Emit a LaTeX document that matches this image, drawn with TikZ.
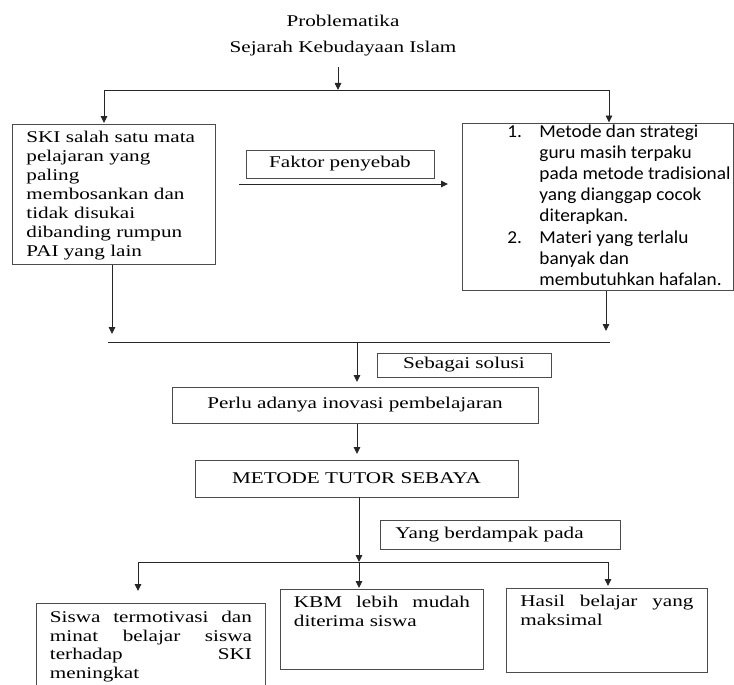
\documentclass[tikz,border=0pt]{standalone}
\usepackage{fontspec}
\setmainfont{Liberation Serif}[FakeStretch=1.29]
\newfontfamily\calib{Carlito}[FakeStretch=1.06]
\usetikzlibrary{arrows.meta}
\newcommand{\tbox}[4]{\parbox[c][#1][t]{#2}{\vspace*{#3}\raggedright #4}}
\newcommand{\jline}[2]{\makebox[#1][s]{#2}}
\begin{document}
\begin{tikzpicture}[x=1pt,y=-1pt,
  ln/.style={draw=black!85, line width=0.9pt},
  arr/.style={ln, -{Triangle[length=7pt,width=6.5pt]}},
  box/.style={draw=black!70, line width=0.9pt, inner sep=0pt},
  txt/.style={font=\fontsize{16.4pt}{18.9pt}\selectfont},
  btxt/.style={font=\fontsize{16.4pt}{18.5pt}\selectfont},
  ltxt/.style={font=\calib\fontsize{18.2pt}{21.2pt}\selectfont}
]
\useasboundingbox (0,0) rectangle (734,685);
\clip (0,0) rectangle (734,685);

% titles
\node[txt] (t1) at (343,20.5) {Problematika};
\node[txt] (t2) at (343,48.5) {Sejarah Kebudayaan Islam};

% row 1 boxes
\node[box, txt, anchor=north west, inner xsep=14pt] (ski) at (12,124)
  {\tbox{140pt}{175pt}{7pt}{SKI salah satu mata\\ pelajaran yang\\ paling\\ membosankan dan\\ tidak disukai\\ dibanding rumpun\\ PAI yang lain}};
\node[box, ltxt, anchor=north west] (list) at (462,123)
  {\tbox{167pt}{271pt}{1pt}{\hspace*{45pt}\makebox[32pt][l]{1.}Metode dan strategi\\
   \hspace*{77pt}guru masih terpaku\\
   \hspace*{77pt}pada metode tradisional\\
   \hspace*{77pt}yang dianggap cocok\\
   \hspace*{77pt}diterapkan.\\
   \hspace*{45pt}\makebox[32pt][l]{2.}Materi yang terlalu\\
   \hspace*{77pt}banyak dan\\
   \hspace*{77pt}membutuhkan hafalan.}};
\node[box, txt, minimum width=188pt, minimum height=28pt] (faktor) at (340,164) {Faktor penyebab};

% middle
\node[box, txt, minimum width=174pt, minimum height=24pt] (solusi) at (464,365) {Sebagai solusi};
\node[box, txt, minimum width=366pt, minimum height=36pt] (perlu) at (355,405) {Perlu adanya inovasi pembelajaran};
\node[box, txt, minimum width=323pt, minimum height=37pt] (metode) at (356.5,478.5) {METODE TUTOR SEBAYA};
\node[box, txt, anchor=west, inner xsep=15pt, minimum height=29pt] (dampak) at (380,534.5)
  {\parbox{210pt}{Yang berdampak pada}};

% bottom boxes
\node[box, btxt, anchor=north west, inner xsep=13.5pt] (siswa) at (36,603)
  {\tbox{100pt}{202pt}{8pt}{\jline{202pt}{Siswa termotivasi dan}\\ \jline{202pt}{minat belajar siswa}\\ \jline{202pt}{terhadap SKI}\\ meningkat}};
\node[box, btxt, anchor=north west, inner xsep=13.5pt] (kbm) at (280,589)
  {\tbox{80pt}{176pt}{7pt}{\jline{176pt}{KBM lebih mudah}\\ diterima siswa}};
\node[box, btxt, anchor=north west, inner xsep=14pt] (hasil) at (506,588)
  {\tbox{84pt}{173pt}{7pt}{\jline{173pt}{Hasil belajar yang}\\ maksimal}};

% junction coordinates
\coordinate (a0) at (338,67);
\coordinate (tl) at (104,90);
\coordinate (tc) at (338,90);
\coordinate (tr) at (609,90);
\coordinate (skiin) at (104,123);
\coordinate (listin) at (609,122.5);
\coordinate (fa) at (239,184);
\coordinate (fb) at (448,184);
\coordinate (skiout) at (112,264.5);
\coordinate (skiend) at (112,334);
\coordinate (listout) at (606,291);
\coordinate (listend) at (606,331);
\coordinate (ml) at (108,342.5);
\coordinate (mr) at (610,342.5);
\coordinate (mc) at (357,342.5);
\coordinate (perlin) at (357,382);
\coordinate (perlout) at (357,424);
\coordinate (metin) at (357,454);
\coordinate (metout) at (359,497);
\coordinate (bc) at (359,562);
\coordinate (bl) at (138,562);
\coordinate (br) at (608,562);
\coordinate (sisin) at (138,591);
\coordinate (kbmin) at (359,588);
\coordinate (hasin) at (608,586);

% connectors
\draw[arr] (a0) -- (tc);
\draw[ln] (tl) -- (tr);
\draw[arr] (tl) -- (skiin);
\draw[arr] (tr) -- (listin);
\draw[arr] (fa) -- (fb);
\draw[arr] (skiout) -- (skiend);
\draw[arr] (listout) -- (listend);
\draw[ln] (ml) -- (mr);
\draw[arr] (mc) -- (perlin);
\draw[arr] (perlout) -- (metin);
\draw[arr] (metout) -- (bc);
\draw[ln] (bl) -- (br);
\draw[arr] (bl) -- (sisin);
\draw[arr] (bc) -- (kbmin);
\draw[arr] (br) -- (hasin);
\end{tikzpicture}
\end{document}
